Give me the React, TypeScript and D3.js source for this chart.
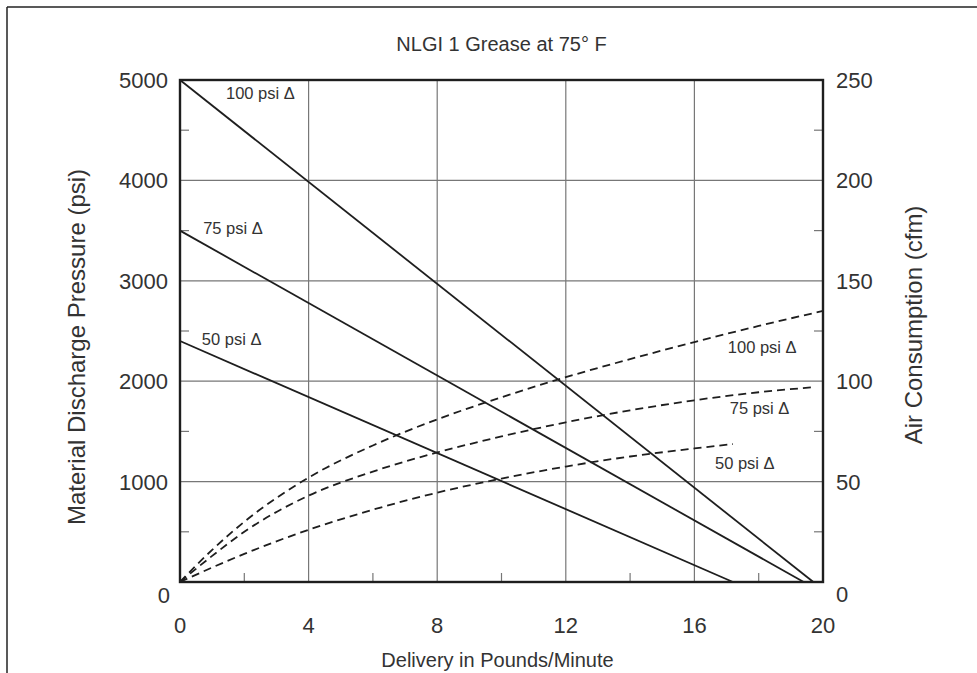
import React from "react";
import * as d3 from "d3";

const title = "NLGI 1 Grease at 75\u00B0 F";
const xLabel = "Delivery in Pounds/Minute";
const yLeftLabel = "Material Discharge Pressure (psi)";
const yRightLabel = "Air Consumption (cfm)";

const xTicks = [0, 4, 8, 12, 16, 20];
const xMinorTicks = [2, 6, 10, 14, 18];
const yLeftTicks = [0, 1000, 2000, 3000, 4000, 5000];
const yLeftMinor = [500, 1500, 2500, 3500, 4500];
const yRightTicks = [0, 50, 100, 150, 200, 250];
const yRightMinor = [25, 75, 125, 175, 225];

// pressure lines [delivery, psi]
const pressure100: [number, number][] = [[0, 5000], [19.7, 0]];
const pressure75: [number, number][] = [[0, 3500], [19.4, 0]];
const pressure50: [number, number][] = [[0, 2400], [17.2, 0]];

// air consumption curves [delivery, cfm]
const air100: [number, number][] = [[0, 0], [1, 16], [2, 30], [4, 52], [6, 68], [8, 81], [10, 92], [12, 102], [14, 111], [16, 119.5], [18, 127.5], [20, 135]];
const air75: [number, number][] = [[0, 0], [1, 13], [2, 25], [4, 43], [6, 55], [8, 64.5], [10, 72.5], [12, 79.5], [14, 85.5], [16, 90.5], [18, 94.5], [19.7, 97]];
const air50: [number, number][] = [[0, 0], [1, 7.2], [2, 14], [4, 26], [6, 36], [8, 44.5], [10, 51.5], [12, 57.5], [14, 62.5], [16, 66.5], [17.2, 68.7]];

const leftLabels = [
  { text: "100 psi \u0394", x: 1.43, y: 4870 },
  { text: "75 psi \u0394", x: 0.72, y: 3526 },
  { text: "50 psi \u0394", x: 0.68, y: 2420 },
];
const rightLabels = [
  { text: "100 psi \u0394", x: 17.04, y: 117 },
  { text: "75 psi \u0394", x: 17.1, y: 86.7 },
  { text: "50 psi \u0394", x: 16.64, y: 59.3 },
];

const W = 977, H = 673;
const L = 180, R = 823, T = 80, B = 582;
const font = "'Liberation Sans', Arial, Helvetica, sans-serif";
const textColor = "#333";
const ink = "#1e1e1e";

export default function App() {
  const x = d3.scaleLinear().domain([0, 20]).range([L, R]);
  const yL = d3.scaleLinear().domain([0, 5000]).range([B, T]);
  const yR = d3.scaleLinear().domain([0, 250]).range([B, T]);
  const lineL = d3.line<[number, number]>().x(d => x(d[0])).y(d => yL(d[1]));
  const lineR = d3.line<[number, number]>().x(d => x(d[0])).y(d => yR(d[1])).curve(d3.curveMonotoneX);

  return (
    <svg width={W} height={H} style={{ position: "absolute", left: 0, top: 0, background: "#fff" }}>
      <rect x={0} y={0} width={W} height={H} fill="#fff" />
      {/* frame */}
      <line x1={7} y1={7} x2={W} y2={7} stroke="#222" strokeWidth={1.5} />
      <line x1={7} y1={7} x2={7} y2={H} stroke="#222" strokeWidth={1.5} />

      <text x={(L + R) / 2} y={51} textAnchor="middle" fontFamily={font} fontSize={20} fill={textColor}>{title}</text>

      {/* grid */}
      {xTicks.slice(1, -1).map(t => (
        <line key={"gx" + t} x1={x(t)} x2={x(t)} y1={T} y2={B} stroke="#777" strokeWidth={1.2} />
      ))}
      {yLeftTicks.slice(1, -1).map(t => (
        <line key={"gy" + t} x1={L} x2={R} y1={yL(t)} y2={yL(t)} stroke="#777" strokeWidth={1.2} />
      ))}
      {/* minor ticks */}
      {xMinorTicks.map(t => (
        <line key={"mx" + t} x1={x(t)} x2={x(t)} y1={B} y2={B - 9} stroke="#777" strokeWidth={1.2} />
      ))}
      {yLeftMinor.map(t => (
        <line key={"ml" + t} x1={L} x2={L + 9} y1={yL(t)} y2={yL(t)} stroke="#777" strokeWidth={1.2} />
      ))}
      {yRightMinor.map(t => (
        <line key={"mr" + t} x1={R} x2={R - 9} y1={yR(t)} y2={yR(t)} stroke="#777" strokeWidth={1.2} />
      ))}

      {/* pressure lines */}
      {[pressure100, pressure75, pressure50].map((d, i) => (
        <path key={"p" + i} d={lineL(d) || ""} fill="none" stroke={ink} strokeWidth={1.8} />
      ))}
      {/* air curves */}
      {[air100, air75, air50].map((d, i) => (
        <path key={"a" + i} d={lineR(d) || ""} fill="none" stroke={ink} strokeWidth={1.8} strokeDasharray="8,5" />
      ))}

      {/* axes box */}
      <rect x={L} y={T} width={R - L} height={B - T} fill="none" stroke={ink} strokeWidth={2.4} />

      {/* tick labels */}
      {xTicks.map(t => (
        <text key={"tx" + t} x={x(t)} y={633} textAnchor="middle" fontFamily={font} fontSize={22} fill={textColor}>{t}</text>
      ))}
      {yLeftTicks.map(t => (
        <text key={"tl" + t} x={t === 0 ? 170 : 168} y={t === 0 ? 603 : yL(t) + 8} textAnchor="end" fontFamily={font} fontSize={22} fill={textColor}>{t}</text>
      ))}
      {yRightTicks.map(t => (
        <text key={"tr" + t} x={836} y={t === 0 ? 602 : yR(t) + 8} textAnchor="start" fontFamily={font} fontSize={22} fill={textColor}>{t}</text>
      ))}

      {/* axis titles */}
      <text x={(L + R) / 2 - 4} y={667} textAnchor="middle" fontFamily={font} fontSize={20} fill={textColor}>{xLabel}</text>
      <text transform={`translate(85,${347}) rotate(-90)`} textAnchor="middle" fontFamily={font} fontSize={24} fill={textColor}>{yLeftLabel}</text>
      <text transform={`translate(922,${325}) rotate(-90)`} textAnchor="middle" fontFamily={font} fontSize={24} fill={textColor}>{yRightLabel}</text>

      {/* series labels */}
      {leftLabels.map((l, i) => (
        <text key={"ll" + i} x={x(l.x)} y={yL(l.y)} dominantBaseline="central" fontFamily={font} fontSize={16.5} fill={textColor}>{l.text}</text>
      ))}
      {rightLabels.map((l, i) => (
        <text key={"rl" + i} x={x(l.x)} y={yR(l.y)} dominantBaseline="central" fontFamily={font} fontSize={16.5} fill={textColor}>{l.text}</text>
      ))}
    </svg>
  );
}
